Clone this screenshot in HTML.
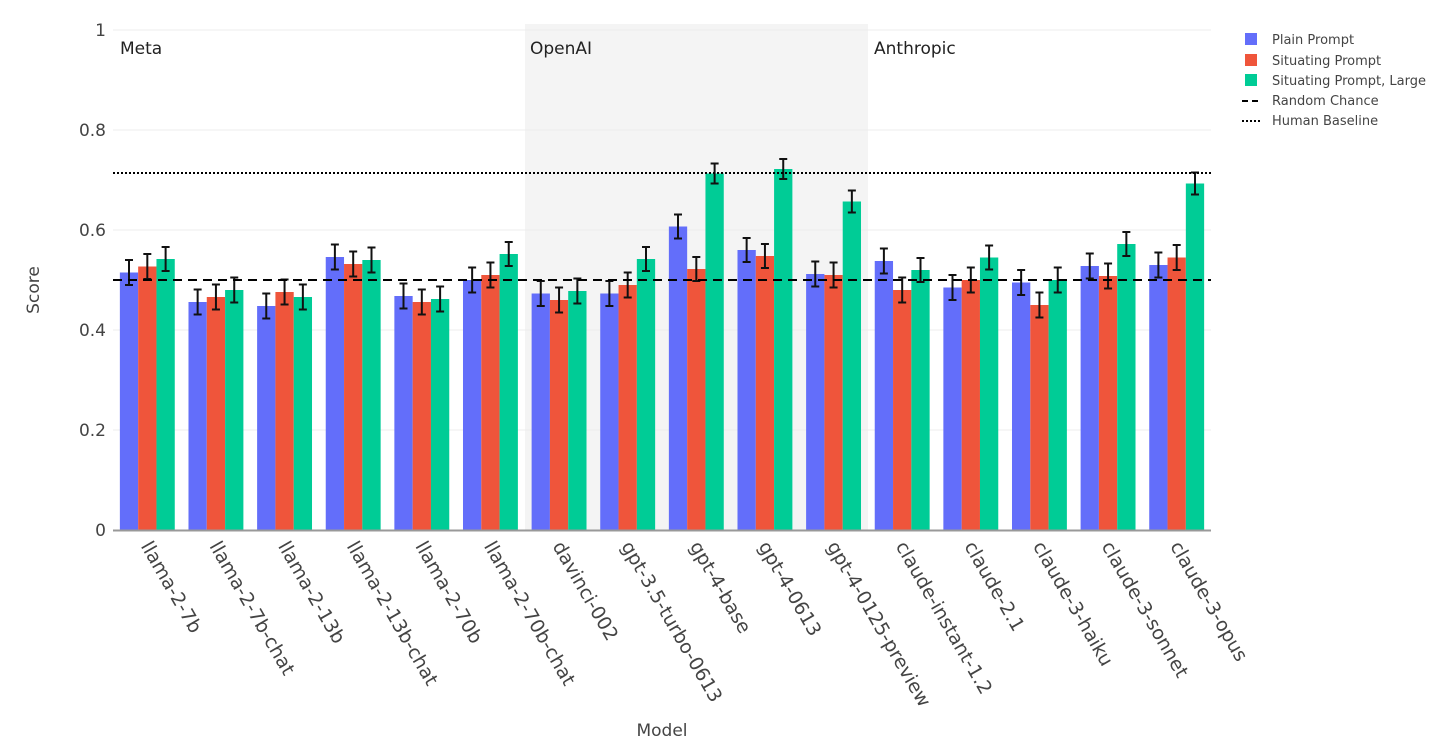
<!DOCTYPE html>
<html><head><meta charset="utf-8"><style>
body{margin:0;background:#fff;}
svg{display:block;font-family:"DejaVu Sans","Liberation Sans",sans-serif;}
</style></head><body>
<svg id="chart" width="1456" height="747">
<rect x="525" y="24" width="343" height="506" fill="#f4f4f4"/>
<g id="grid"></g>
<g id="bars"></g>
<g id="lines"></g>
<g id="labels"></g>
<text x="120" y="54" font-size="17" fill="#222">Meta</text>
<text x="530" y="54" font-size="17" fill="#222">OpenAI</text>
<text x="874" y="54" font-size="17" fill="#222">Anthropic</text>
<text transform="translate(39,290) rotate(-90)" text-anchor="middle" font-size="17" fill="#444">Score</text>
<text x="662" y="736" text-anchor="middle" font-size="17" fill="#444">Model</text>
<g font-size="13" fill="#444">
<g><rect x="1245" y="33" width="12" height="12" fill="#636efa"/><text x="1272" y="44">Plain Prompt</text></g>
<g><rect x="1245" y="54" width="12" height="12" fill="#ef553b"/><text x="1272" y="65">Situating Prompt</text></g>
<g><rect x="1245" y="74" width="12" height="12" fill="#00cc96"/><text x="1272" y="85">Situating Prompt, Large</text></g>
<g><line x1="1242" y1="101" x2="1262" y2="101" stroke="#000" stroke-width="2" stroke-dasharray="6,4"/><text x="1272" y="105">Random Chance</text></g>
<g><line x1="1242" y1="121" x2="1262" y2="121" stroke="#000" stroke-width="2" stroke-dasharray="2,2"/><text x="1272" y="125">Human Baseline</text></g>
</g>
</svg>
<script>
const categories=["llama-2-7b","llama-2-7b-chat","llama-2-13b","llama-2-13b-chat","llama-2-70b","llama-2-70b-chat","davinci-002","gpt-3.5-turbo-0613","gpt-4-base","gpt-4-0613","gpt-4-0125-preview","claude-instant-1.2","claude-2.1","claude-3-haiku","claude-3-sonnet","claude-3-opus"];
const plainPrompt=[0.515,0.456,0.448,0.546,0.468,0.50,0.473,0.473,0.607,0.56,0.512,0.538,0.485,0.495,0.528,0.53];
const situatingPrompt=[0.527,0.466,0.476,0.532,0.456,0.51,0.46,0.49,0.522,0.548,0.51,0.48,0.50,0.45,0.508,0.545];
const situatingLarge=[0.542,0.48,0.466,0.54,0.462,0.552,0.478,0.542,0.713,0.722,0.657,0.52,0.545,0.5,0.572,0.693];
const errPlain=[0.025,0.025,0.025,0.025,0.025,0.025,0.025,0.025,0.024,0.024,0.025,0.025,0.025,0.025,0.025,0.025];
const errSituating=[0.025,0.025,0.025,0.025,0.025,0.025,0.025,0.025,0.024,0.024,0.025,0.025,0.025,0.025,0.025,0.025];
const errLarge=[0.024,0.025,0.025,0.025,0.025,0.024,0.025,0.024,0.02,0.02,0.022,0.024,0.024,0.025,0.024,0.022];
const yTicks=[0,0.2,0.4,0.6,0.8,1];
const yTickLabels=["0","0.2","0.4","0.6","0.8","1"];
const randomChance=0.5;
const humanBaseline=0.714;

const NS="http://www.w3.org/2000/svg";
const X0=113,X1=1211,Y0=530,Y1=30;
const step=(X1-X0)/categories.length;
const xc=i=>X0+step*(i+0.5);
const y=v=>Y0-(v)*(Y0-Y1);
function mk(tag,attrs,parent){const e=document.createElementNS(NS,tag);for(const k in attrs)e.setAttribute(k,attrs[k]);parent.appendChild(e);return e;}
const grid=document.getElementById('grid'),bars=document.getElementById('bars'),lines=document.getElementById('lines'),labels=document.getElementById('labels');
yTicks.forEach((t,i)=>{
  if(t>0){const g=mk('line',{x1:X0,x2:X1,y1:y(t),y2:y(t),stroke:'#ececec','stroke-width':1},grid);
  
  }
  const tx=mk('text',{x:106,y:y(t)+6,'text-anchor':'end','font-size':17,fill:'#444'},labels);
  tx.textContent=yTickLabels[i];
  
  
});
const series=[[plainPrompt,errPlain,'#636efa','plain'],[situatingPrompt,errSituating,'#ef553b','situating'],[situatingLarge,errLarge,'#00cc96','situating-large']];
const groupW=step*0.8,bw=groupW/3;
categories.forEach((c,i)=>{
  series.forEach((s,j)=>{
    const v=s[0][i],e=s[1][i];
    const x=xc(i)-groupW/2+j*bw;
    const r=mk('rect',{x:x,y:y(v),width:bw,height:Y0-y(v),fill:s[2]},bars);
    
    
    const cx=x+bw/2;
    const g=mk('g',{stroke:'#111','stroke-width':2},bars);
    
    
    mk('line',{x1:cx,x2:cx,y1:y(v-e),y2:y(v+e)},g);
    mk('line',{x1:cx-4,x2:cx+4,y1:y(v-e),y2:y(v-e)},g);
    mk('line',{x1:cx-4,x2:cx+4,y1:y(v+e),y2:y(v+e)},g);
  });
  const t=mk('text',{transform:`translate(${xc(i)-7},546) rotate(60)`,'font-size':19,fill:'#444'},labels);
  t.textContent=c;
  
  
});
const ax=mk('line',{x1:X0,x2:X1,y1:Y0+0.5,y2:Y0+0.5,stroke:'#999','stroke-width':2},lines);


const rc=mk('line',{x1:X0,x2:X1,y1:y(randomChance),y2:y(randomChance),stroke:'#000','stroke-width':2,'stroke-dasharray':'9,6'},lines);


const hb=mk('line',{x1:X0,x2:X1,y1:y(humanBaseline),y2:y(humanBaseline),stroke:'#000','stroke-width':2,'stroke-dasharray':'2,2'},lines);


</script>
</body></html>
